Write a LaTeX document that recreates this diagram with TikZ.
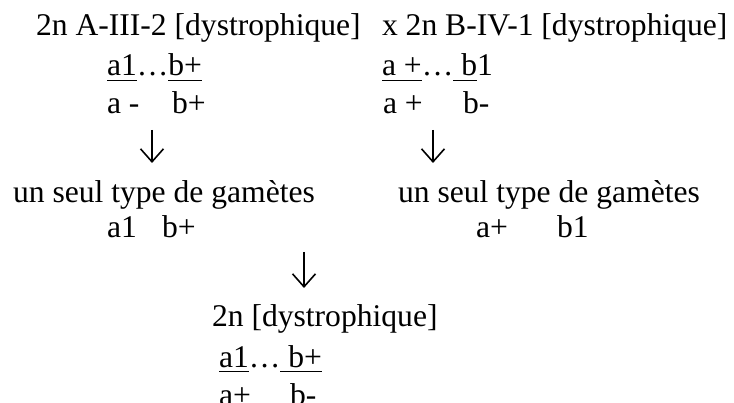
\documentclass[tikz,border=0pt]{standalone}
\usepackage{fontspec}
\setmainfont{Liberation Serif}
\usetikzlibrary{arrows.meta}
% underline a piece of text with a rule of fixed depth
\newsavebox\ulcontent
\newcommand\ulbox[1]{\sbox\ulcontent{#1}\rlap{\rule[-5.4pt]{\wd\ulcontent}{1.8pt}}\usebox\ulcontent}
\begin{document}
\begin{tikzpicture}[x=1pt,y=-1pt,
  txt/.style={inner sep=0pt, outer sep=0pt, anchor=base west,
              font=\rmfamily\fontsize{31.6}{38}\selectfont},
  arr/.style={line width=1.6pt, -{Straight Barb[length=13pt,width=23pt]}}]
\useasboundingbox (0,0) rectangle (734,403);
\clip (0,0) rectangle (734,403);

% parents
\node[txt] (crossA) at (36,36)  {2n A-III-2 [dystrophique]};
\node[txt] (crossB) at (382,36) {x 2n B-IV-1 [dystrophique]};
\node[txt] (chrA1)  at (107,76) {\ulbox{a1}…\ulbox{b+}};
\node[txt] (chrB1)  at (382,76) {\ulbox{a +}…\ulbox{\ b}1};
\node[txt] (chrA2a) at (107,114) {a -};
\node[txt] (chrA2b) at (172,114) {b+};
\node[txt] (chrB2a) at (383,114) {a +};
\node[txt] (chrB2b) at (463,114) {b-};

% gametes
\node[txt] (gamA)  at (13,203)  {un seul type de gamètes};
\node[txt] (gamB)  at (398,203) {un seul type de gamètes};
\node[txt] (gamA1) at (107,238) {a1};
\node[txt] (gamA2) at (162,238) {b+};
\node[txt] (gamB1) at (476,238) {a+};
\node[txt] (gamB2) at (557,238) {b1};

% offspring (last line runs past the lower edge)
\node[txt] (child)  at (212,327) {2n [dystrophique]};
\node[txt] (chrC1)  at (219,367) {\ulbox{a1}…\ulbox{\ b+}};
\node[txt] (chrC2a) at (219,406) {a+};
\node[txt] (chrC2b) at (290,406) {b-};

% arrows
\coordinate (arrAs) at (152,130);
\coordinate (arrAe) at (152,163);
\coordinate (arrBs) at (433,130);
\coordinate (arrBe) at (433,163);
\coordinate (arrCs) at (304,252);
\coordinate (arrCe) at (304,288);
\draw[arr] (arrAs) -- (arrAe);
\draw[arr] (arrBs) -- (arrBe);
\draw[arr] (arrCs) -- (arrCe);
\end{tikzpicture}
\end{document}
